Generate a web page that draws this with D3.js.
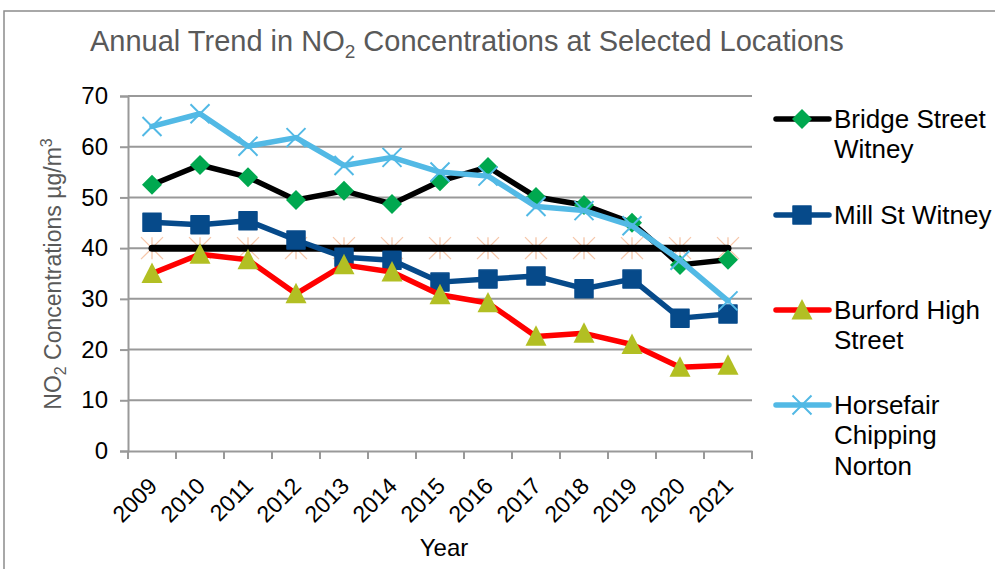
<!DOCTYPE html>
<html><head><meta charset="utf-8">
<script src="https://cdn.jsdelivr.net/npm/d3@7"></script>
<style>
html,body{margin:0;padding:0;background:#fff;}
svg{display:block;font-family:"Liberation Sans",Arial,sans-serif;}
</style></head>
<body>
<svg id="c" width="995" height="569"></svg>
<script>
const years = ["2009","2010","2011","2012","2013","2014","2015","2016","2017","2018","2019","2020","2021"];
const bridgeStreet = [52.5,56.4,54.0,49.5,51.3,48.7,53.2,56.0,50.1,48.5,45.0,36.7,37.7];
const millSt      = [45.1,44.6,45.4,41.6,38.2,37.6,33.3,33.9,34.5,32.0,33.9,26.2,27.0];
const burford     = [35.0,38.8,37.7,31.0,36.7,35.3,30.8,29.2,22.6,23.2,21.0,16.5,16.9];
const horsefair   = [64.0,66.5,60.1,61.8,56.3,57.9,55.0,54.2,48.2,47.4,44.4,37.6,29.6];
const objective   = [40,40,40,40,40,40,40,40,40,40,40,40,40];
const yTicks = [0,10,20,30,40,50,60,70];
const seriesNames = [["Bridge Street","Witney"],["Mill St Witney"],["Burford High","Street"],["Horsefair","Chipping","Norton"]];

const svg = d3.select("#c");
const m = {left:128, right:752, top:96, bottom:451};

// frame
svg.append("rect").attr("x",4).attr("y",11).attr("width",1000).attr("height",600)
  .attr("fill","none").attr("stroke","#8c8c8c").attr("stroke-width",1.5);

const x = d3.scaleBand().domain(years).range([m.left,m.right]).padding(0);
const y = d3.scaleLinear().domain([0,70]).range([m.bottom,m.top]);
const cx = d => x(d)+x.bandwidth()/2;

// gridlines
svg.append("g").selectAll("line").data(yTicks.filter(v=>v>0)).join("line")
  .attr("x1",m.left).attr("x2",m.right).attr("y1",d=>y(d)).attr("y2",d=>y(d))
  .attr("stroke","#999").attr("stroke-width",2);

// y axis
const ya = svg.append("g").attr("transform",`translate(${m.left},0)`)
  .call(d3.axisLeft(y).tickValues(yTicks).tickSize(8).tickPadding(12));
ya.select(".domain").attr("stroke","#999").attr("stroke-width",2);
ya.selectAll(".tick line").attr("stroke","#999").attr("stroke-width",2);
ya.selectAll("text").attr("font-size",24).attr("fill","#000").attr("font-family","Liberation Sans, Arial, sans-serif");

// x axis
const xa = svg.append("g").attr("transform",`translate(0,${m.bottom})`)
  .call(d3.axisBottom(x).tickSize(0).tickFormat(""));
xa.select(".domain").attr("stroke","#999").attr("stroke-width",2);
const tickPos = years.map(d=>x(d)).concat([m.right]);
xa.append("g").selectAll("line").data(tickPos).join("line")
  .attr("x1",d=>d).attr("x2",d=>d).attr("y1",0).attr("y2",8)
  .attr("stroke","#999").attr("stroke-width",2);
xa.append("g").selectAll("text").data(years).join("text")
  .attr("transform",d=>`translate(${cx(d)-5},${25}) rotate(-45)`)
  .attr("text-anchor","end").attr("dy","0.71em")
  .attr("font-size",23).attr("fill","#000").text(d=>d);

// objective line with asterisk markers
const line = d3.line().x((d,i)=>cx(years[i])).y(d=>y(d));
const objG = svg.append("g");
objG.selectAll("path.ast").data(objective).join("path")
  .attr("transform",(d,i)=>`translate(${cx(years[i])},${y(d)})`)
  .attr("d","M-11,-11L11,11M-11,11L11,-11M0,-11L0,11")
  .attr("stroke","#f6c7aa").attr("stroke-width",1.3).attr("fill","none");
objG.append("path").datum(objective).attr("d",line)
  .attr("fill","none").attr("stroke","#000").attr("stroke-width",7).attr("stroke-linecap","round");

// markers
const diamond = s=>`M0,${-s}L${s},0L0,${s}L${-s},0Z`;
const square = s=>`M${-s},${-s}H${s}V${s}H${-s}Z`;
const tri = s=>`M0,${-s*1.05}L${s},${s*0.9}L${-s},${s*0.9}Z`;
const cross = s=>`M${-s},${-s}L${s},${s}M${-s},${s}L${s},${-s}`;

const series = [
  {vals:bridgeStreet, line:"#000", mk:"diamond", mc:"#00a84f"},
  {vals:millSt, line:"#064a8a", mk:"square", mc:"#064a8a"},
  {vals:burford, line:"#ff0000", mk:"tri", mc:"#b2bf23"},
  {vals:horsefair, line:"#52b9e5", mk:"cross", mc:"#52b9e5"}
];
function drawMarker(g, type, color){
  if(type==="diamond") g.append("path").attr("d",diamond(10)).attr("fill",color);
  if(type==="square") g.append("path").attr("d",square(9)).attr("fill",color).attr("stroke",color).attr("stroke-width",1.5).attr("stroke-linejoin","round");
  if(type==="tri") g.append("path").attr("d",tri(10.5)).attr("fill",color);
  if(type==="cross") g.append("path").attr("d",cross(9.5)).attr("stroke",color).attr("stroke-width",2).attr("fill","none");
}
series.forEach(s=>{
  const g = svg.append("g");
  g.append("path").datum(s.vals).attr("d",line).attr("fill","none")
    .attr("stroke",s.line).attr("stroke-width",5.5).attr("stroke-linejoin","round").attr("stroke-linecap","round");
  s.vals.forEach((v,i)=>{
    const mg = g.append("g").attr("transform",`translate(${cx(years[i])},${y(v)})`);
    drawMarker(mg, s.mk, s.mc);
  });
});

// legend
const legY = [119,215,310,405];
series.forEach((s,k)=>{
  const g = svg.append("g");
  g.append("line").attr("x1",776).attr("x2",829).attr("y1",legY[k]).attr("y2",legY[k])
    .attr("stroke",s.line).attr("stroke-width",5.5).attr("stroke-linecap","round");
  const mg = g.append("g").attr("transform",`translate(802,${legY[k]})`);
  drawMarker(mg, s.mk, s.mc);
  seriesNames[k].forEach((t,j)=>{
    g.append("text").attr("x",834).attr("y",legY[k]+8.5+j*30.5)
      .attr("font-size",26).attr("fill","#000").text(t);
  });
});

// title
const title = svg.append("text").attr("x",90).attr("y",51).attr("text-anchor","start")
  .attr("font-size",29).attr("fill","#595959");
title.append("tspan").text("Annual Trend in NO");
title.append("tspan").attr("font-size",19).attr("dy",7).text("2");
title.append("tspan").attr("dy",-7).text(" Concentrations at Selected Locations");

// y label
const yl = svg.append("text").attr("transform","translate(61,274) rotate(-90)")
  .attr("text-anchor","middle").attr("font-size",23).attr("fill","#595959");
yl.append("tspan").text("NO");
yl.append("tspan").attr("font-size",16).attr("dy",5).text("2");
yl.append("tspan").attr("dy",-5).text(" Concentrations µg/m");
yl.append("tspan").attr("font-size",16).attr("dy",-9).text("3");

// x label
svg.append("text").attr("x",444).attr("y",556).attr("text-anchor","middle")
  .attr("font-size",24).attr("fill","#000").text("Year");
</script>
</body></html>
